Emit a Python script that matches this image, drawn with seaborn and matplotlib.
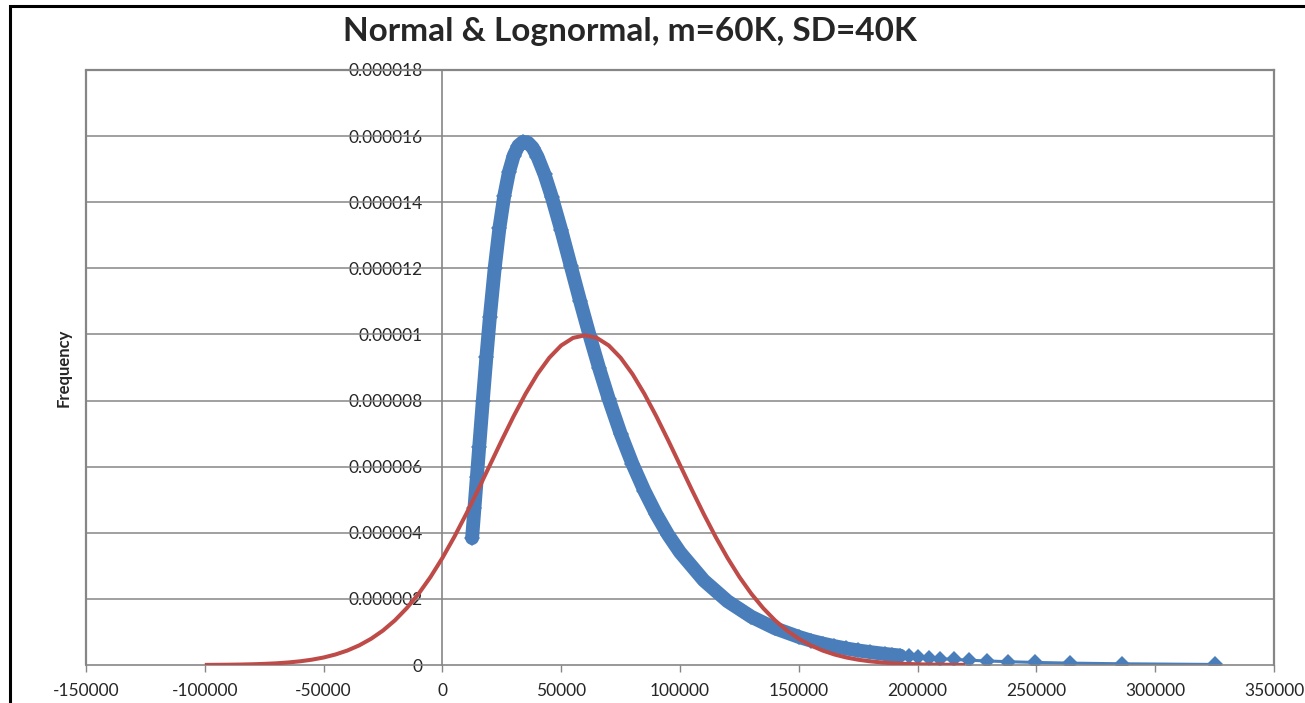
import matplotlib
matplotlib.use('Agg')
import matplotlib.pyplot as plt
import pandas as pd
import seaborn as sns
from matplotlib.patches import Rectangle

# Normal curve (y in units of 1e-6)
norm_x = [-100000, -95000, -90000, -85000, -80000, -75000, -70000, -65000, -60000, -55000,
          -50000, -45000, -40000, -35000, -30000, -25000, -20000, -15000, -10000, -5000,
          0, 5000, 10000, 15000, 20000, 25000, 30000, 35000, 40000, 45000,
          50000, 55000, 60000, 65000, 70000, 75000, 80000, 85000, 90000, 95000,
          100000, 105000, 110000, 115000, 120000, 125000, 130000, 135000, 140000, 145000,
          150000, 155000, 160000, 165000, 170000, 175000, 180000, 185000, 190000, 195000,
          200000, 205000, 210000, 215000, 220000]
norm_y = [0.003, 0.006, 0.009, 0.014, 0.022, 0.034, 0.051, 0.076, 0.111, 0.160,
          0.227, 0.318, 0.438, 0.594, 0.794, 1.043, 1.350, 1.720, 2.157, 2.663,
          3.238, 3.875, 4.566, 5.297, 6.049, 6.801, 7.528, 8.204, 8.802, 9.296,
          9.667, 9.896, 9.974, 9.896, 9.667, 9.296, 8.802, 8.204, 7.528, 6.801,
          6.049, 5.297, 4.566, 3.875, 3.238, 2.663, 2.157, 1.720, 1.350, 1.043,
          0.794, 0.594, 0.438, 0.318, 0.227, 0.160, 0.111, 0.076, 0.051, 0.034,
          0.022, 0.014, 0.009, 0.006, 0.003]

# Lognormal points (y in units of 1e-6)
logn_x = [12500, 13500, 14500, 15500, 17000, 18500, 20000,
          22000, 24000, 26000, 28000, 30000, 32000, 34000, 36000, 38000, 40000,
          43000, 46000, 50000, 54000, 58000, 62000, 66000, 70000,
          75000, 80000, 85000, 90000, 95000, 100000,
          110000, 120000, 130000, 140000, 150000,
          155000, 160000, 165000, 170000, 175000, 180000,
          186100, 189200, 192600, 196200, 200200, 204600, 209600, 215200,
          221500, 229000, 238100, 249300, 264300, 285900, 325200]
logn_y = [3.84, 4.76, 5.68, 6.61, 7.99, 9.31, 10.54,
          12.00, 13.22, 14.18, 14.91, 15.41, 15.71, 15.83, 15.80, 15.65, 15.38,
          14.84, 14.17, 13.16, 12.08, 11.00, 9.96, 8.97, 8.05,
          7.00, 6.08, 5.27, 4.56, 3.94, 3.41,
          2.56, 1.93, 1.46, 1.11, 0.85,
          0.74, 0.65, 0.57, 0.50, 0.44, 0.39,
          0.336, 0.311, 0.287, 0.263, 0.239, 0.215, 0.191, 0.168,
          0.145, 0.123, 0.100, 0.078, 0.057, 0.037, 0.017]

x_ticks = [-150000, -100000, -50000, 0, 50000, 100000, 150000, 200000, 250000, 300000, 350000]
x_tick_labels = ['-150000', '-100000', '-50000', '0', '50000', '100000', '150000',
                 '200000', '250000', '300000', '350000']
y_ticks = [0, 0.000002, 0.000004, 0.000006, 0.000008, 0.00001, 0.000012, 0.000014,
           0.000016, 0.000018]
y_tick_labels = ['0', '0.000002', '0.000004', '0.000006', '0.000008', '0.00001',
                 '0.000012', '0.000014', '0.000016', '0.000018']

df_norm = pd.DataFrame({'x': norm_x, 'y': [v * 1e-6 for v in norm_y]})
df_logn = pd.DataFrame({'x': logn_x, 'y': [v * 1e-6 for v in logn_y]})

sns.set_style('white')
plt.rcParams['font.family'] = ['Lato', 'DejaVu Sans']

blue = '#4A7EBB'
red = '#BE4B48'
grid_c = '#868686'

fig = plt.figure(figsize=(13.05, 7.03), dpi=100)
ax = fig.add_axes([86 / 1305, 1 - 665 / 703, 1188 / 1305, 595 / 703])

# horizontal gridlines, drawn over the tick labels like Excel does
for v in y_ticks[1:-1]:
    ax.axhline(v, color=grid_c, lw=1.1, zorder=1)
ax.set_axisbelow(True)

# lognormal: dense part looks like a thick band of diamonds
band = df_logn[df_logn['x'] <= 192600]
sns.lineplot(data=band, x='x', y='y', ax=ax, color=blue, lw=10, sort=False,
             estimator=None, zorder=2, solid_capstyle='round', solid_joinstyle='round')
sns.lineplot(data=df_logn, x='x', y='y', ax=ax, color=blue, lw=2.2, sort=False,
             estimator=None, marker='D', markersize=8.5, markeredgewidth=0,
             markerfacecolor=blue, zorder=2.2)
sns.lineplot(data=df_norm, x='x', y='y', ax=ax, color=red, lw=2.9, sort=False,
             estimator=None, zorder=3, solid_capstyle='butt')

ax.set_xlim(-150000, 350000)
ax.set_ylim(0, 0.000018)
ax.set_xticks(x_ticks)
ax.set_xticklabels(x_tick_labels)
ax.set_yticks(y_ticks)
ax.set_yticklabels(y_tick_labels)

ax.spines['left'].set_position(('data', 0))
for s in ax.spines.values():
    s.set_color(grid_c)
    s.set_linewidth(1.2)
ax.spines['top'].set_linewidth(1.6)
ax.spines['right'].set_linewidth(1.6)
ax.axvline(-150000, color=grid_c, lw=1.6, clip_on=False, zorder=1)

ax.tick_params(axis='x', direction='out', length=5, width=1, color=grid_c,
               labelsize=12.5, pad=8, bottom=True)
ax.tick_params(axis='y', length=0, labelsize=12.5, pad=14, left=True)

ax.set_xlabel('')
ax.set_ylabel('Frequency', fontsize=12, fontweight='bold')
ax.yaxis.set_label_coords(-0.012, 0.5)

fig.text(630 / 1305, 1 - 31 / 703, 'Normal & Lognormal, m=60K, SD=40K',
         ha='center', va='center', fontsize=24, fontweight='bold')

# outer chart border (left and top visible, rest cropped)
fig.patches.append(Rectangle((10 / 1305, -0.1), 1.2, 1.1 - 6 / 703, transform=fig.transFigure,
                             fill=False, edgecolor='black', lw=2.2, zorder=0))

fig.savefig('out.png', dpi=100)
